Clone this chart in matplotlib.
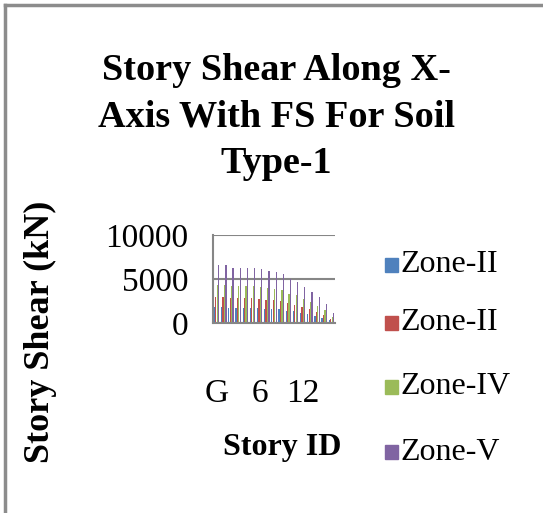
import numpy as np
import matplotlib.pyplot as plt
from matplotlib.patches import Rectangle
from matplotlib.lines import Line2D

plt.rcParams['font.family'] = ['Liberation Serif', 'DejaVu Serif']

stories = ['G'] + [str(i) for i in range(1, 17)]
zone_ii = [1820, 1820, 1750, 1750, 1750, 1750, 1690, 1640, 1600, 1540, 1390, 1310, 1130, 970, 810, 600, 310]
zone_iii = [2910, 2910, 2800, 2800, 2800, 2800, 2710, 2620, 2560, 2470, 2220, 2090, 1800, 1560, 1290, 960, 490]
zone_iv = [4370, 4370, 4200, 4200, 4200, 4200, 4070, 3930, 3830, 3700, 3330, 3130, 2700, 2330, 1930, 1430, 730]
zone_v = [6550, 6550, 6300, 6300, 6300, 6300, 6100, 5900, 5750, 5550, 5000, 4700, 4050, 3500, 2900, 2150, 1100]
series = [zone_ii, zone_iii, zone_iv, zone_v]
labels = ['Zone-II', 'Zone-II', 'Zone-IV', 'Zone-V']
colors = ['#4F81BD', '#C0504D', '#9BBB59', '#8064A2']

fig = plt.figure(figsize=(5.43, 5.13), dpi=100)

# outer chart frame (only top and left edges show)
fig.add_artist(Line2D([5/543, 5/543], [0, 1 - 5/513], color='#8c8c8c', lw=2.5))
fig.add_artist(Line2D([5/543, 1], [1 - 5/513, 1 - 5/513], color='#8c8c8c', lw=2.5))

ax = fig.add_axes([213/543, 1 - 323/513, 122/543, 88/513])
x = np.arange(len(stories))
w = 0.2
for i, (vals, c) in enumerate(zip(series, colors)):
    ax.bar(x + (i - 1.5) * w, vals, width=w * 0.85, color=c, label=labels[i])

ax.set_xlim(-0.5, len(stories) - 0.5)
ax.set_ylim(0, 10000)
ax.set_yticks([0, 5000, 10000])
ax.set_yticklabels(['0', '5000', '10000'])
ax.set_xticks(x[::6])
ax.set_xticklabels(stories[::6])
ax.tick_params(length=0, labelsize=24)
ax.tick_params(axis='y', pad=18)
ax.tick_params(axis='x', pad=40)
ax.yaxis.grid(True, color='#868686', lw=1.5)
ax.set_axisbelow(True)
for s in ['top', 'right']:
    ax.spines[s].set_visible(False)
for s in ['left', 'bottom']:
    ax.spines[s].set_color('#868686')
    ax.spines[s].set_linewidth(1.5)

fig.text(276/543, 1 - 117/513, 'Story Shear Along X-\nAxis With FS For Soil\nType-1',
         ha='center', va='center', fontsize=27.5, fontweight='bold', linespacing=1.42)
fig.text(282/543, 1 - 448/513, 'Story ID', ha='center', va='center',
         fontsize=23, fontweight='bold')
fig.text(40/543, 1 - 332/513, 'Story Shear (kN)', ha='center', va='center',
         rotation=90, fontsize=26, fontweight='bold')

# legend entries
leg_y = [265, 323, 387, 452]
for lab, c, y in zip(labels, colors, leg_y):
    fig.add_artist(Rectangle((385/543, 1 - (y + 7)/513), 13/543, 14/513,
                             color=c, transform=fig.transFigure))
    fig.text(400/543, 1 - y/513, lab, ha='left', va='center', fontsize=23)

fig.savefig('out.png', dpi=100)
